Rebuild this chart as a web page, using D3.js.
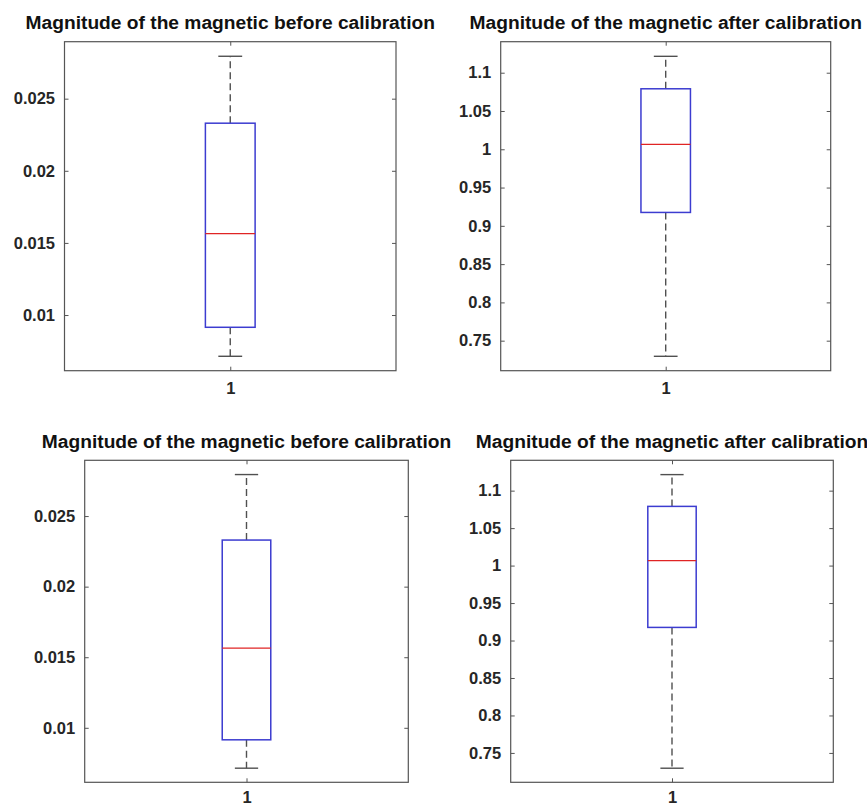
<!DOCTYPE html>
<html>
<head>
<meta charset="utf-8">
<script src="https://cdn.jsdelivr.net/npm/d3@7"></script>
<style>
  html, body { margin: 0; padding: 0; background: #fff; }
  svg { display: block; font-family: "Liberation Sans", Arial, Helvetica, sans-serif; }
  .frame { fill: none; stroke: #555; stroke-width: 1.2; }
  .tick-lbl { font-size: 16.5px; font-weight: bold; fill: #262626; }
  .title { font-size: 19.2px; font-weight: bold; fill: #111; }
</style>
</head>
<body>
<div id="chart"></div>
<script>
// Box-plot summaries: [lower whisker, q1, median, q3, upper whisker]
const beforeStats = [0.00714, 0.00915, 0.01565, 0.0233, 0.02794];
const afterStats  = [0.7296, 0.9175, 1.0065, 1.079, 1.1214];

const beforeDomain = [0.00614, 0.02895];
const afterDomain  = [0.7108, 1.1405];

const beforeTicks = [0.01, 0.015, 0.02, 0.025];
const afterTicks  = [0.75, 0.8, 0.85, 0.9, 0.95, 1, 1.05, 1.1];

const categories = ["1"];

const titleBefore = "Magnitude of the magnetic before calibration";
const titleAfter  = "Magnitude of the magnetic after calibration";

const W = 867, H = 807;
const svg = d3.select("#chart").append("svg").attr("width", W).attr("height", H);

// axes rectangles of the four panels
const panels = [
  { box: [64.5, 396, 41.7, 370.7],    stats: beforeStats, domain: beforeDomain, ticks: beforeTicks, title: titleBefore, titleY: 29,    xPad: 12 },
  { box: [500.7, 830.7, 41.7, 370.7], stats: afterStats,  domain: afterDomain,  ticks: afterTicks,  title: titleAfter,  titleY: 29,    xPad: 12 },
  { box: [84.7, 408.3, 460.3, 782.3], stats: beforeStats, domain: beforeDomain, ticks: beforeTicks, title: titleBefore, titleY: 447.5, xPad: 9 },
  { box: [510.7, 833.3, 460.3, 782.3], stats: afterStats, domain: afterDomain,  ticks: afterTicks,  title: titleAfter,  titleY: 447.5, xPad: 9 }
];

const fmt = d3.format("~g");
const tickLen = 4;

panels.forEach(p => {
  const [x0, x1, y0, y1] = p.box;
  const g = svg.append("g");
  const x = d3.scalePoint().domain(categories).range([x0, x1]).padding(0.5);
  const y = d3.scaleLinear().domain(p.domain).range([y1, y0]);
  const bw = (x1 - x0) * 0.15;
  const cw = bw * 0.48;
  const [lo, q1, med, q3, hi] = p.stats;
  const cx = x("1");

  // whiskers
  const wh = g.append("g").attr("stroke", "#505050").attr("stroke-width", 1.4);
  wh.append("line").attr("x1", cx).attr("x2", cx).attr("y1", y(q3)).attr("y2", y(hi))
    .attr("stroke-dasharray", "7 4");
  wh.append("line").attr("x1", cx).attr("x2", cx).attr("y1", y(q1)).attr("y2", y(lo))
    .attr("stroke-dasharray", "7 4");
  wh.append("line").attr("x1", cx - cw / 2).attr("x2", cx + cw / 2).attr("y1", y(hi)).attr("y2", y(hi));
  wh.append("line").attr("x1", cx - cw / 2).attr("x2", cx + cw / 2).attr("y1", y(lo)).attr("y2", y(lo));

  // box + median
  g.append("rect")
    .attr("x", cx - bw / 2).attr("width", bw)
    .attr("y", y(q3)).attr("height", y(q1) - y(q3))
    .attr("fill", "none").attr("stroke", "#3c3cd0").attr("stroke-width", 1.5);
  g.append("line")
    .attr("x1", cx - bw / 2).attr("x2", cx + bw / 2)
    .attr("y1", y(med)).attr("y2", y(med))
    .attr("stroke", "#e02424").attr("stroke-width", 1.3);

  // y axis (left, inward ticks) and mirrored ticks on the right
  const yAx = g.append("g").attr("transform", `translate(${x0},0)`)
    .call(d3.axisLeft(y).tickValues(p.ticks).tickFormat(fmt).tickSizeInner(-tickLen).tickSizeOuter(0).tickPadding(9.5));
  yAx.select(".domain").remove();
  yAx.selectAll(".tick line").attr("stroke", "#555");
  yAx.selectAll(".tick text").attr("class", "tick-lbl").attr("fill", null);
  yAx.attr("font-size", null).attr("font-family", null);

  const yAxR = g.append("g").attr("transform", `translate(${x1},0)`)
    .call(d3.axisRight(y).tickValues(p.ticks).tickSizeInner(-tickLen).tickSizeOuter(0).tickFormat(""));
  yAxR.select(".domain").remove();
  yAxR.selectAll(".tick line").attr("stroke", "#555");

  // x axis (bottom, inward tick) and top tick
  const xAx = g.append("g").attr("transform", `translate(0,${y1})`)
    .call(d3.axisBottom(x).tickSizeInner(-tickLen).tickSizeOuter(0).tickPadding(p.xPad));
  xAx.select(".domain").remove();
  xAx.selectAll(".tick line").attr("stroke", "#555");
  xAx.selectAll(".tick text").attr("class", "tick-lbl").attr("fill", null);
  xAx.attr("font-size", null).attr("font-family", null);

  const xAxT = g.append("g").attr("transform", `translate(0,${y0})`)
    .call(d3.axisTop(x).tickSizeInner(-tickLen).tickSizeOuter(0).tickFormat(""));
  xAxT.select(".domain").remove();
  xAxT.selectAll(".tick line").attr("stroke", "#555");

  // frame
  g.append("rect").attr("class", "frame")
    .attr("x", x0).attr("y", y0).attr("width", x1 - x0).attr("height", y1 - y0);

  // title
  g.append("text").attr("class", "title")
    .attr("x", (x0 + x1) / 2).attr("y", p.titleY)
    .attr("text-anchor", "middle").text(p.title);
});
</script>
</body>
</html>
